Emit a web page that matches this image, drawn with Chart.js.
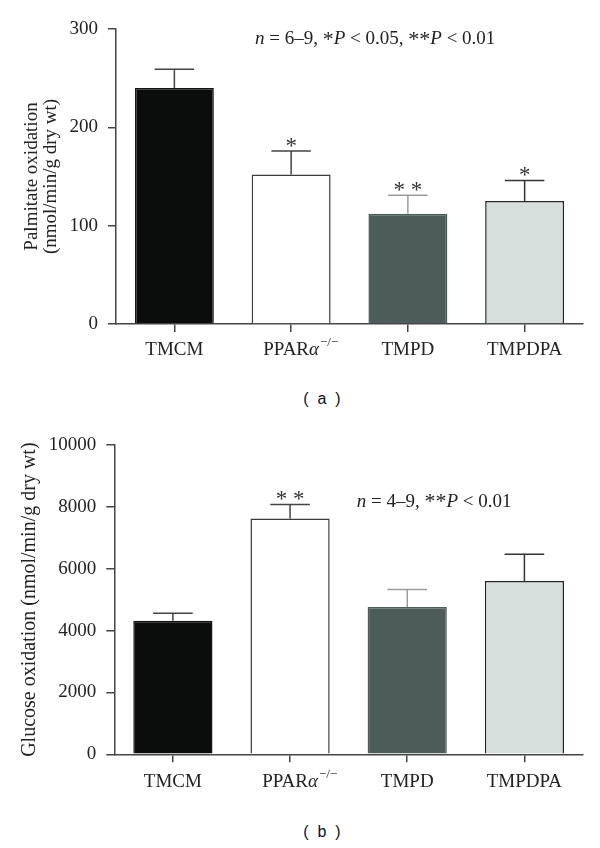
<!DOCTYPE html>
<html>
<head>
<meta charset="utf-8">
<script src="https://cdn.jsdelivr.net/npm/chart.js@4.4.1/dist/chart.umd.min.js"></script>
<style>
  body { margin: 0; background: #fff; width: 600px; height: 848px; position: relative; overflow: hidden; }
  canvas { position: absolute; left: 0; }
  #chartA { top: 0; }
  #chartB { top: 420px; }
  .panel { position: absolute; left: 0; width: 644px; text-align: center; white-space: pre;
           font: 16px "Liberation Sans", Arial, sans-serif; color: #111; line-height: 1; }
</style>
</head>
<body>
<canvas id="chartA" width="600" height="370"></canvas>
<canvas id="chartB" width="600" height="380"></canvas>
<div class="panel" style="top:391px">(  a  )</div>
<div class="panel" style="top:824px">(  b  )</div>
<script>
// data
const categories = ['TMCM', 'PPARα−/−', 'TMPD', 'TMPDPA'];
const palmitateMeans = [240, 152, 112, 125];
const palmitateErrors = [19, 24, 19, 21];
const palmitateStars = ['', '*', '* *', '*'];
const glucoseMeans = [4320, 7620, 4760, 5600];
const glucoseErrors = [240, 460, 570, 865];
const glucoseStars = ['', '* *', '', ''];
const palmitateTicks = [0, 100, 200, 300];
const glucoseTicks = [0, 2000, 4000, 6000, 8000, 10000];

// styling
const fills = ['#0b0d0c', '#ffffff', '#4e5b5b', '#d7dfdd'];
const borders = ['#161616', '#3a3a3a', '#4e5b5b', '#262626'];
const errorColors = ['#444444', '#444444', '#9b9b9b', '#333333'];
const serif = '"Liberation Serif", "Times New Roman", serif';
const axisColor = '#444';

// draw text made of differently styled pieces, starting at x
// asterisks are set a little larger, like in the original typesetting
function drawPieces(ctx, pieces, x, y) {
  pieces.forEach(p => {
    p[0].split(/(\*)/).forEach(part => {
      if (!part) return;
      ctx.font = p[1] + (part === '*' ? ' 22px ' : ' 19px ') + serif;
      ctx.fillText(part, x, part === '*' ? y + 1 : y);
      x += ctx.measureText(part).width;
    });
  });
}

const barExtras = {
  id: 'barExtras',
  afterDatasetsDraw(chart, args, opts) {
    const ctx = chart.ctx;
    const yScale = chart.scales.y;
    const meta = chart.getDatasetMeta(0);
    ctx.save();
    meta.data.forEach((bar, i) => {
      const top = yScale.getPixelForValue(opts.means[i] + opts.errors[i]);
      ctx.strokeStyle = errorColors[i];
      ctx.lineWidth = 1.5;
      ctx.beginPath();
      ctx.moveTo(bar.x, bar.y);
      ctx.lineTo(bar.x, top);
      ctx.moveTo(bar.x - bar.width / 4, top);
      ctx.lineTo(bar.x + bar.width / 4, top);
      ctx.stroke();
      if (opts.stars[i]) {
        ctx.fillStyle = '#333';
        ctx.font = '23px ' + serif;
        ctx.textAlign = 'center';
        ctx.textBaseline = 'alphabetic';
        ctx.fillText(opts.stars[i], bar.x, top + 2);
      }
    });
    ctx.restore();
  },
  afterDraw(chart, args, opts) {
    const ctx = chart.ctx;
    const xScale = chart.scales.x;
    const area = chart.chartArea;
    ctx.save();
    ctx.fillStyle = '#222';
    ctx.textBaseline = 'middle';
    // category labels, with the greek letter italic and the genotype raised
    categories.forEach((label, i) => {
      const cx = xScale.getPixelForValue(i);
      const y = area.bottom + opts.labelGap;
      const m = label.match(/^(.*?)(α)(.*)$/);
      ctx.textAlign = 'left';
      if (!m) {
        ctx.font = '19px ' + serif;
        ctx.fillText(label, cx - ctx.measureText(label).width / 2, y);
        return;
      }
      ctx.font = '19px ' + serif;
      const w1 = ctx.measureText(m[1]).width;
      ctx.font = 'italic 19px ' + serif;
      const w2 = ctx.measureText(m[2]).width;
      let x = cx - (w1 + w2) / 2;
      ctx.font = '19px ' + serif;
      ctx.fillText(m[1], x, y);
      x += w1;
      ctx.font = 'italic 19px ' + serif;
      ctx.fillText(m[2], x, y);
      x += w2 + 1;
      ctx.font = '13px ' + serif;
      ctx.fillText(m[3], x, y - 7);
    });
    // n / P note
    ctx.textAlign = 'left';
    drawPieces(ctx, opts.note, area.left + opts.noteX, chart.scales.y.getPixelForValue(opts.noteY));
    ctx.restore();
  }
};

function makeChart(id, cfg) {
  return new Chart(document.getElementById(id), {
    type: 'bar',
    data: {
      labels: categories,
      datasets: [{
        data: cfg.means,
        backgroundColor: fills,
        borderColor: borders,
        borderWidth: 1.5,
        categoryPercentage: 1,
        barPercentage: 0.676
      }]
    },
    options: {
      responsive: false,
      animation: false,
      events: [],
      layout: { padding: { top: cfg.top, right: 17, bottom: 10, left: 0 } },
      plugins: {
        legend: { display: false },
        tooltip: { enabled: false },
        barExtras: {
          means: cfg.means, errors: cfg.errors, stars: cfg.stars,
          note: cfg.note, noteX: cfg.noteX, noteY: cfg.noteY, labelGap: cfg.labelGap
        }
      },
      scales: {
        x: {
          grid: { offset: false, drawOnChartArea: false, tickLength: 8, color: axisColor, lineWidth: 1.5 },
          border: { color: axisColor, width: 1.5 },
          ticks: { display: false },
          afterFit: s => { s.height = cfg.xHeight; }
        },
        y: {
          min: 0,
          max: cfg.ticks[cfg.ticks.length - 1],
          afterBuildTicks: s => { s.ticks = cfg.ticks.map(v => ({ value: v })); },
          grid: { drawOnChartArea: false, tickLength: 8, color: axisColor, lineWidth: 1.5 },
          border: { color: axisColor, width: 1.5 },
          ticks: {
            padding: 10,
            color: '#222',
            font: { family: serif, size: 19 },
            callback: v => String(v)
          },
          title: {
            display: true,
            text: cfg.title,
            color: '#222',
            font: { family: serif, size: cfg.titleSize, lineHeight: 1 },
            padding: { top: cfg.titlePad, bottom: 0 }
          },
          afterFit: s => { s.width = cfg.yWidth; }
        }
      }
    },
    plugins: [barExtras]
  });
}

makeChart('chartA', {
  means: palmitateMeans, errors: palmitateErrors, stars: palmitateStars, ticks: palmitateTicks,
  title: ['Palmitate oxidation', '(nmol/min/g dry wt)'], titleSize: 19, titlePad: 22.5,
  top: 29, xHeight: 36, yWidth: 116, labelGap: 26,
  note: [['n', 'italic'], [' = 6–9, *', 'normal'], ['P', 'italic'], [' < 0.05, **', 'normal'], ['P', 'italic'], [' < 0.01', 'normal']],
  noteX: 139, noteY: 290
});

makeChart('chartB', {
  means: glucoseMeans, errors: glucoseErrors, stars: glucoseStars, ticks: glucoseTicks,
  title: 'Glucose oxidation (nmol/min/g dry wt)', titleSize: 20, titlePad: 20,
  top: 25, xHeight: 35.7, yWidth: 114.3, labelGap: 27.4,
  note: [['n', 'italic'], [' = 4–9, **', 'normal'], ['P', 'italic'], [' < 0.01', 'normal']],
  noteX: 242.4, noteY: 8170
});
</script>
</body>
</html>
